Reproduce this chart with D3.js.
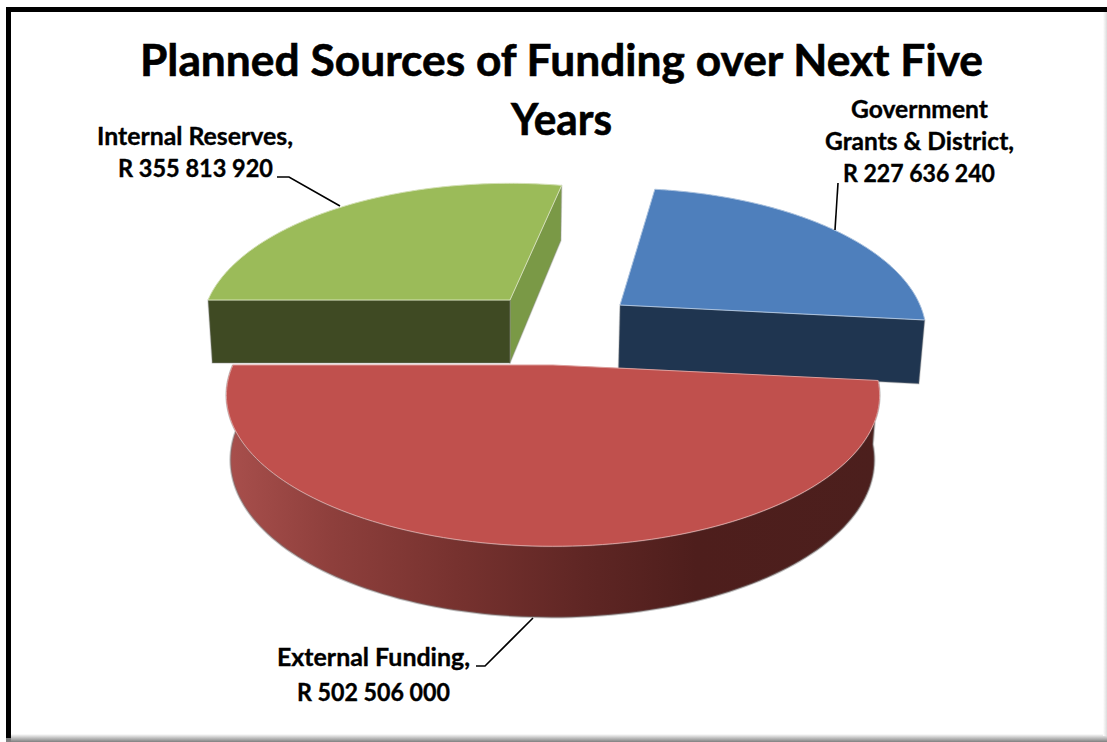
<!DOCTYPE html>
<html>
<head>
<meta charset="utf-8">
<script src="https://cdn.jsdelivr.net/npm/d3@7/dist/d3.min.js"></script>
<style>
html,body{margin:0;padding:0;background:#fff;overflow:hidden}
svg{display:block}
text{font-family:Lato,"Open Sans",sans-serif;font-weight:700;fill:#000;stroke:#000}
</style>
</head>
<body>
<svg id="chart" width="1107" height="742"></svg>
<script>
// Funding data
const categories = ["Government Grants & District", "External Funding", "Internal Reserves"];
const amounts = [227636240, 502506000, 355813920];
const titleLines = ["Planned Sources of Funding over Next Five", "Years"];

// Slice appearance and placement on the tilted disc
const sliceStyles = [
  {apex:[620,305], rx:300, ry:140, top:"#4e7fbc", endFace:"#1f3550", startFace:null, outer:null, edge:"#a9c1de"},
  {apex:[553,365], rx:320, ry:145, top:"#c0504d", endFace:null, startFace:null, outer:"url(#rimShade)", edge:"#dc9c9a"},
  {apex:[510,300], rx:302, ry:140, top:"#9bbb59", endFace:"#7a9946", startFace:"#3f4a23", outer:null, edge:"#d3e0b4"}
];
// Each label line: centre x, baseline y, drawn width
const labelStyles = [
  {split:["Government","Grants & District,"], lines:[[919.5,118,137],[919.5,150,189],[919,182,152]], leader:[[838,183],[835,230]]},
  {split:["External Funding,"], lines:[[373.5,666,193],[373.5,701,153]], leader:[[476,666],[485,666],[533,618]]},
  {split:["Internal Reserves,"], lines:[[195,145,196],[195.5,177,155]], leader:[[277,177],[289,177],[340,206]]}
];
const titleWidths = [843, 101];
const depth = 63, perspective = 0.2, vanishX = 510, baseShrink = 0.986;

const svg = d3.select("#chart");
const fmtRand = v => "R " + d3.format(",")(v).replace(/,/g, " ");

const arcs = d3.pie().sort(null).value(d => d)(amounts);
// The tilted view stretches some sweeps and compresses others
const viewAngle = d3.scaleLinear()
  .domain([0, arcs[0].endAngle, arcs[1].endAngle, 2 * Math.PI])
  .range([8, 96, 270, 371.8].map(d => d * Math.PI / 180));

function project(style, a, base) {
  const u = Math.sin(a), v = -Math.cos(a), f = 1 / (1 - perspective * v);
  const x = style.apex[0] + style.rx * u * f;
  const y = style.apex[1] + style.ry * v * f;
  if (!base) return [x, y];
  return [vanishX + (x - vanishX) * baseShrink, y + depth * (1 + 0.13 * v)];
}
function apexOf(style, base) {
  const [x, y] = style.apex;
  return base ? [vanishX + (x - vanishX) * baseShrink, y + depth] : [x, y];
}
function sweep(d) {
  const a0 = viewAngle(d.startAngle), a1 = viewAngle(d.endAngle);
  return d3.range(0, 121).map(i => a0 + (a1 - a0) * i / 120);
}
const line = d3.line();

const defs = svg.append("defs");
const rim = defs.append("linearGradient").attr("id", "rimShade")
  .attr("gradientUnits", "userSpaceOnUse")
  .attr("x1", 228).attr("x2", 878).attr("y1", 0).attr("y2", 0);
[[0, "#a84f4c"], [0.16, "#8e3f3c"], [0.35, "#77322f"], [0.55, "#5f2624"], [0.72, "#4e1e1c"], [1, "#4c1f1d"]]
  .forEach(([o, c]) => rim.append("stop").attr("offset", o).attr("stop-color", c));

// Frame
svg.append("rect").attr("x", 8.5).attr("y", 9.5).attr("width", 1120).attr("height", 729)
  .attr("fill", "none").attr("stroke", "#000").attr("stroke-width", 5);
const fadeB = defs.append("linearGradient").attr("id", "fadeB").attr("x1", 0).attr("x2", 0).attr("y1", 0).attr("y2", 1);
fadeB.append("stop").attr("offset", 0).attr("stop-color", "#fff");
fadeB.append("stop").attr("offset", 1).attr("stop-color", "#808080");
const fadeR = defs.append("linearGradient").attr("id", "fadeR").attr("x1", 0).attr("x2", 1).attr("y1", 0).attr("y2", 0);
fadeR.append("stop").attr("offset", 0).attr("stop-color", "#fff");
fadeR.append("stop").attr("offset", 1).attr("stop-color", "#dcdcdc");
svg.append("rect").attr("x", 11).attr("y", 734).attr("width", 1096).attr("height", 8).attr("fill", "url(#fadeB)");
svg.append("rect").attr("x", 1103).attr("y", 12).attr("width", 4).attr("height", 724).attr("fill", "url(#fadeR)");
svg.append("rect").attr("x", 6).attr("y", 738).attr("width", 5).attr("height", 4).attr("fill", "#808080");

// Slices, back ones first so the large front slice overlaps them
const drawOrder = [2, 0, 1];
const pieG = svg.append("g");
drawOrder.forEach(i => {
  const d = arcs[i], st = sliceStyles[i], g = pieG.append("g");
  const angles = sweep(d);
  const a0 = angles[0], a1 = angles[angles.length - 1];
  const face = (a, fill) => {
    const quad = [apexOf(st), project(st, a), project(st, a, true), apexOf(st, true)];
    g.append("path").attr("d", line(quad) + "Z").attr("fill", fill)
      .attr("stroke", "#8d8d8d").attr("stroke-opacity", .35).attr("stroke-width", 1.5).attr("stroke-linejoin", "round");
  };
  if (st.endFace) face(a1, st.endFace);
  if (st.startFace) face(a0, st.startFace);
  if (st.outer) {
    const top = angles.map(a => project(st, a));
    const base = angles.map(a => project(st, a, true)).reverse();
    g.append("path").attr("d", line(top.concat(base)) + "Z").attr("fill", st.outer)
      .attr("stroke", "#777").attr("stroke-opacity", .45).attr("stroke-width", 2);
  }
  const outline = [apexOf(st)].concat(angles.map(a => project(st, a)));
  g.append("path").attr("d", line(outline) + "Z").attr("fill", st.top)
    .attr("stroke", st.edge).attr("stroke-width", 1).attr("stroke-linejoin", "round");
});

// Leader lines and data labels
labelStyles.forEach((l, i) => {
  svg.append("path").attr("d", line(l.leader)).attr("fill", "none")
    .attr("stroke", "#000").attr("stroke-width", 1.6);
  l.split.concat([fmtRand(amounts[i])]).forEach((t, j) => {
    const [x, y, w] = l.lines[j];
    svg.append("text").attr("x", x).attr("y", y).attr("text-anchor", "middle")
      .attr("font-size", 24).attr("stroke-width", 0.35)
      .attr("textLength", w).attr("lengthAdjust", "spacingAndGlyphs").text(t);
  });
});

// Title
titleLines.forEach((t, i) => {
  svg.append("text").attr("x", 561.5).attr("y", 76 + i * 59).attr("text-anchor", "middle")
    .attr("font-size", 44).attr("stroke-width", 0.6)
    .attr("textLength", titleWidths[i]).attr("lengthAdjust", "spacingAndGlyphs").text(t);
});
</script>
</body>
</html>
